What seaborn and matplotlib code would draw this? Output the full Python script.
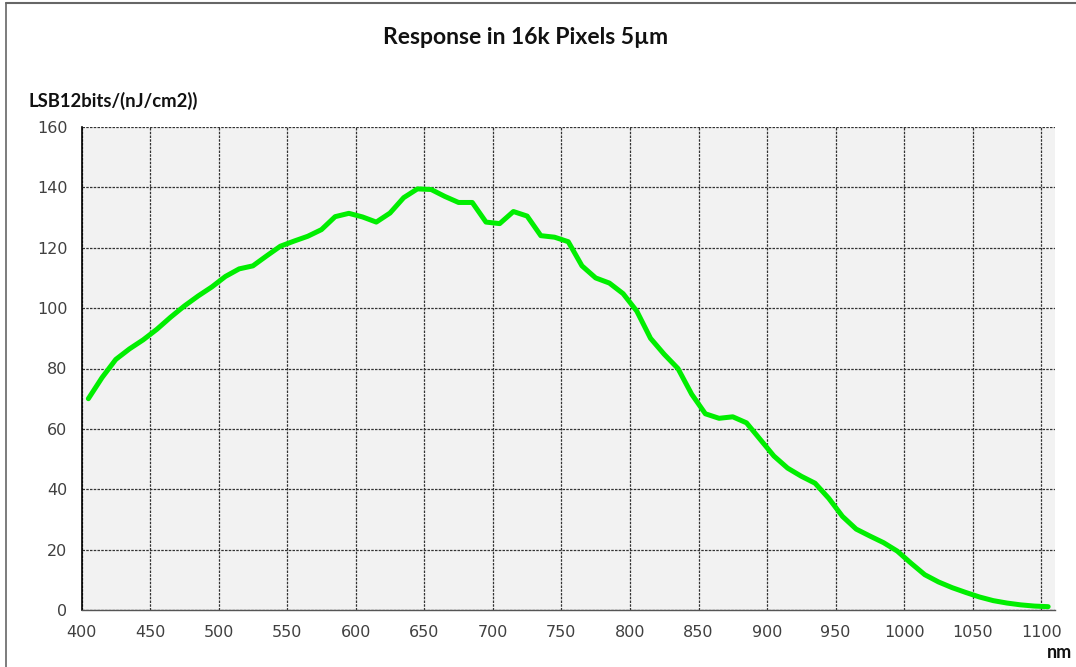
import matplotlib
matplotlib.use("Agg")
import matplotlib.pyplot as plt
import seaborn as sns
import pandas as pd
from matplotlib.lines import Line2D
from matplotlib.ticker import MultipleLocator

wavelength_nm = [405, 415, 425, 435, 445, 455, 465, 475, 485, 495,
                 505, 515, 525, 535, 545, 555, 565, 575, 585, 595,
                 605, 615, 625, 635, 645, 655, 665, 675, 685, 695,
                 705, 715, 725, 735, 745, 755, 765, 775, 785, 795,
                 805, 815, 825, 835, 845, 855, 865, 875, 885, 895,
                 905, 915, 925, 935, 945, 955, 965, 975, 985, 995,
                 1005, 1015, 1025, 1035, 1045, 1055, 1065, 1075, 1085, 1095, 1105]
response = [70, 77, 83, 86.5, 89.5, 93, 97, 100.7, 104, 107,
            110.5, 113, 114, 117.3, 120.5, 122.2, 123.8, 126, 130.3, 131.4,
            130.2, 128.5, 131.5, 136.6, 139.5, 139.3, 137, 135, 135, 128.5,
            128, 132, 130.5, 124, 123.5, 122, 114, 110, 108.3, 104.8,
            99, 90, 84.7, 80, 71.5, 65, 63.5, 64, 62, 56.5,
            51, 47, 44.3, 42, 37, 31, 26.8, 24.5, 22.3, 19.5,
            15.5, 11.7, 9.3, 7.4, 5.8, 4.3, 3.1, 2.3, 1.7, 1.3, 1.1]
x_ticks = [400, 450, 500, 550, 600, 650, 700, 750, 800, 850, 900, 950, 1000, 1050, 1100]
y_ticks = [0, 20, 40, 60, 80, 100, 120, 140, 160]

title = "Response in 16k Pixels 5µm"
y_label = "LSB12bits/(nJ/cm2))"
x_label = "nm"

df = pd.DataFrame({"nm": wavelength_nm, "resp": response})

sns.set_style("white")
plt.rcParams['font.family'] = ['DejaVu Sans']

fig = plt.figure(figsize=(10.76, 6.67), dpi=100)
ax = fig.add_axes([81.5/1076, 57/667, (1055-81.5)/1076, (610-127)/667])
ax.set_facecolor("#f2f2f2")

sns.lineplot(data=df, x="nm", y="resp", ax=ax, color="#00ee00", linewidth=3.6,
             solid_joinstyle="round", solid_capstyle="round")

ax.set_xlim(400, 1110)
ax.set_ylim(0, 160)
ax.set_xticks(x_ticks)
ax.set_yticks(y_ticks)
ax.xaxis.set_minor_locator(MultipleLocator(25))
ax.grid(True, which="major", color="#333333", linestyle=(0, (2, 1)), linewidth=0.9)
ax.set_axisbelow(True)
ax.set_xlabel("")
ax.set_ylabel("")

for s in ["top", "right"]:
    ax.spines[s].set_visible(False)
ax.spines["left"].set_color("black")
ax.spines["left"].set_linewidth(1.2)
ax.spines["bottom"].set_color("#555555")
ax.spines["bottom"].set_linewidth(1.0)

ax.tick_params(axis="both", which="major", direction="out", length=5, width=1,
               color="#555555", labelsize=11.5, labelcolor="#404040", pad=5)
ax.tick_params(axis="x", which="minor", direction="out", length=4, width=1, color="#555555")
ax.tick_params(axis="x", which="major", pad=6)

fig.text(526/1076, 1 - 37/667, title, ha="center", va="center",
         fontsize=16.5, fontweight="bold", family=["Lato", "DejaVu Sans"], color="#111111")
fig.text(28/1076, 1 - 101/667, y_label, ha="left", va="center",
         fontsize=13.3, fontweight="bold", family=["Lato", "DejaVu Sans"], color="#111111")
fig.text(1072/1076, 1 - 652/667, x_label, ha="right", va="center",
         fontsize=13, fontweight="bold", family=["Lato", "DejaVu Sans"], color="#111111")

# figure frame lines
fig.add_artist(Line2D([6/1076, 1], [1 - 3/667, 1 - 3/667], transform=fig.transFigure,
                      color="#666666", linewidth=1.5))
fig.add_artist(Line2D([6/1076, 6/1076], [0, 1 - 3/667], transform=fig.transFigure,
                      color="#666666", linewidth=1.2))

fig.savefig("out.png", dpi=100, facecolor="white")
